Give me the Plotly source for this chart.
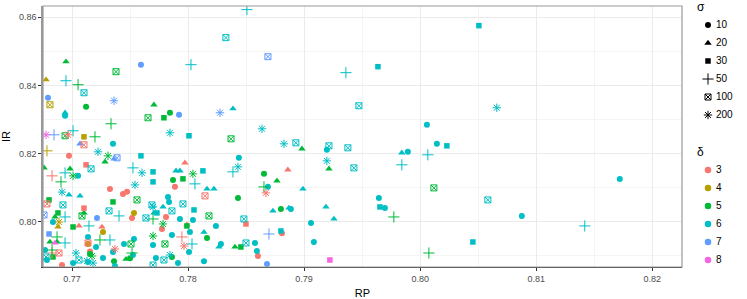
import plotly.graph_objects as go

# ---------------- data ----------------
SIGMAS = [10, 20, 30, 50, 100, 200]
DELTAS = [3, 4, 5, 6, 7, 8]
DELTA_COLORS = ["#F8766D", "#B79F00", "#00BA38", "#00BFC4", "#619CFF", "#F564E3"]

# sigma = 10 (circles)
RP_10 = [0.76974, 0.77327, 0.77439, 0.77474, 0.77517, 0.77887, 0.77810, 0.77775, 0.78809, 0.78602, 0.76914, 0.77155,
         0.77534, 0.77267, 0.77138,
         0.77121, 0.77844, 0.77870, 0.78430, 0.78654, 0.78800, 0.78163, 0.77362, 0.77155, 0.77861, 0.77500,
         0.76940, 0.77353, 0.77052, 0.78438, 0.77827, 0.77836, 0.77930, 0.78042, 0.78240, 0.77861, 0.78016, 0.78008,
         0.78137, 0.78283, 0.77913, 0.77723, 0.77698, 0.77448, 0.77534, 0.77525, 0.77207, 0.77138, 0.77138, 0.77370,
         0.77353, 0.77267, 0.77009, 0.76836, 0.76767, 0.76784, 0.78688, 0.78886, 0.78576, 0.78593, 0.79196, 0.79894,
         0.80058, 0.80144, 0.79644, 0.79696, 0.79059, 0.79084, 0.80876, 0.81720,
         0.77594, 0.76793, 0.77922, 0.77215, 0.78680]
IR_10 = [0.81932, 0.80962, 0.80815, 0.80874, 0.80109, 0.81021, 0.80138, 0.79785, 0.79662, 0.78991, 0.78724, 0.79126,
         0.80256, 0.79697, 0.79344,
         0.83374, 0.83197, 0.81226, 0.80697, 0.81403, 0.80373, 0.79521, 0.78838, 0.79050, 0.78962, 0.78926,
         0.83109, 0.82285, 0.81344, 0.81874, 0.80726, 0.80579, 0.80079, 0.80050, 0.79874, 0.79609, 0.79697, 0.79109,
         0.78838, 0.79344, 0.78785, 0.78932, 0.79315, 0.79344, 0.79491, 0.79020, 0.79256, 0.79550, 0.78815, 0.78697,
         0.79109, 0.78932, 0.78785, 0.79991, 0.79167, 0.78873, 0.81021, 0.80373, 0.79374, 0.79138, 0.82109, 0.82050,
         0.82844, 0.82285, 0.80697, 0.80403, 0.79962, 0.79403, 0.80168, 0.81250,
         0.84609, 0.83638, 0.83138, 0.80109, 0.78756]
DELTA_10 = [3] * 12 + [4] * 3 + [5] * 11 + [6] * 44 + [7] * 5

# sigma = 20 (triangles)
RP_20 = [0.77973, 0.78860, 0.77060, 0.77258, 0.77990,
         0.76776, 0.76879,
         0.76948, 0.77706, 0.77284, 0.76983, 0.76759, 0.78981, 0.78766, 0.79214, 0.77103, 0.76853, 0.76810, 0.76871,
         0.77465, 0.78404,
         0.76940, 0.78387, 0.77896, 0.77930, 0.76974, 0.77069, 0.77706, 0.77784, 0.78163, 0.78223, 0.78137, 0.78266,
         0.78731, 0.78869, 0.78990, 0.79188, 0.79257, 0.79842,
         0.77069, 0.77362,
         0.76853]
IR_20 = [0.81726, 0.81521, 0.79874, 0.79844, 0.79910,
         0.84168, 0.79844,
         0.84697, 0.83432, 0.81756, 0.81550, 0.81579, 0.82138, 0.81197, 0.81550, 0.80256, 0.80138, 0.79403, 0.79403,
         0.78897, 0.79256,
         0.83197, 0.83315, 0.81491, 0.81491, 0.80785, 0.80756, 0.80256, 0.80432, 0.80962, 0.80962, 0.79691, 0.79256,
         0.80315, 0.80403, 0.80962, 0.80432, 0.80079, 0.82021,
         0.82285, 0.81844,
         0.79374]
DELTA_20 = [3] * 5 + [4] * 2 + [5] * 14 + [6] * 18 + [7] * 2 + [8] * 1

# sigma = 30 (squares)
RP_30 = [0.77121, 0.77103, 0.78499,
         0.77103,
         0.77792, 0.77956, 0.77353, 0.77009, 0.76802, 0.76879, 0.76836, 0.77990, 0.78455,
         0.78008, 0.77594, 0.77698, 0.77698, 0.78128, 0.77732, 0.78051, 0.78800, 0.79653, 0.80230, 0.79636, 0.80506,
         0.80454,
         0.76802,
         0.79222]
IR_30 = [0.81668, 0.80397, 0.79932,
         0.82491,
         0.83050, 0.81256, 0.80579, 0.79844, 0.80638, 0.80256, 0.78962, 0.79874, 0.79256,
         0.82521, 0.81932, 0.81462, 0.81168, 0.81491, 0.80256, 0.80344, 0.79726, 0.80432, 0.82226, 0.84550, 0.85756,
         0.79403,
         0.79638,
         0.78874]
DELTA_30 = [3] * 3 + [4] * 1 + [5] * 9 + [6] * 13 + [7] * 1 + [8] * 1

# sigma = 50 (crosses)
RP_50 = [0.76828, 0.77947, 0.76828,
         0.76784,
         0.77052, 0.77336, 0.77198, 0.76905, 0.77698, 0.76871, 0.77241, 0.76828, 0.77517, 0.78654, 0.79773, 0.80075,
         0.78507, 0.76948, 0.78025, 0.77009, 0.77525, 0.76940, 0.78059, 0.78387, 0.76940, 0.77405, 0.77146, 0.77327,
         0.76940, 0.78034, 0.79360, 0.80066, 0.79842, 0.81418,
         0.76845, 0.78697]
IR_50 = [0.81344, 0.79550, 0.79079,
         0.82079,
         0.84021, 0.82874, 0.82491, 0.81168, 0.80079, 0.79550, 0.79462, 0.79167, 0.79079, 0.81021, 0.80138, 0.79079,
         0.86226, 0.84138, 0.84609, 0.82668, 0.81579, 0.81432, 0.81109, 0.81462, 0.80138, 0.80168, 0.79874, 0.79462,
         0.79374, 0.79344, 0.84374, 0.81962, 0.81668, 0.79874,
         0.82550, 0.79638]
DELTA_50 = [3] * 3 + [4] * 1 + [5] * 12 + [6] * 18 + [7] * 2

# sigma = 100 (boxed crosses)
RP_100 = [0.77103, 0.76784, 0.77138, 0.76888, 0.78146,
          0.76810,
          0.77379, 0.77655, 0.76940, 0.78370, 0.77560, 0.77086, 0.78180, 0.77508, 0.77801, 0.80118,
          0.78326, 0.77103, 0.77164, 0.78929, 0.79214, 0.79377, 0.79429, 0.79472, 0.76922, 0.77319, 0.77637, 0.77689,
          0.77861, 0.77956, 0.78481, 0.78499, 0.77792, 0.77060, 0.76776, 0.80583, 0.77698,
          0.78688, 0.77388, 0.76759]
IR_100 = [0.82256, 0.80521, 0.79374, 0.79079, 0.80756,
          0.83432,
          0.84403, 0.83050, 0.82521, 0.82432, 0.80638, 0.80168, 0.80168, 0.79344, 0.79344, 0.80991,
          0.85403, 0.83785, 0.81550, 0.82315, 0.82226, 0.82168, 0.81579, 0.83403, 0.80491, 0.80315, 0.80109, 0.80491,
          0.80315, 0.80521, 0.80079, 0.79374, 0.78874, 0.78874, 0.78962, 0.80638, 0.78727,
          0.84844, 0.81874, 0.80197]
DELTA_100 = [3] * 5 + [4] * 1 + [5] * 10 + [6] * 21 + [7] * 3

# sigma = 200 (asterisks)
RP_200 = [0.76966, 0.78671, 0.77965, 0.77370,
          0.76888,
          0.77310, 0.77009, 0.78042, 0.77784, 0.77698, 0.77172,
          0.77224, 0.77844, 0.78637, 0.78826, 0.78430, 0.77603, 0.77543, 0.76914, 0.77698, 0.79196, 0.80660, 0.77844,
          0.77034, 0.77129, 0.77181,
          0.77362, 0.78275,
          0.76776]
IR_200 = [0.82550, 0.80844, 0.79285, 0.79197,
          0.79991,
          0.81932, 0.81344, 0.81403, 0.79932, 0.79579, 0.78991,
          0.82050, 0.82609, 0.82726, 0.82285, 0.81609, 0.81432, 0.81079, 0.80868, 0.80432, 0.81785, 0.83344, 0.79020,
          0.79079, 0.78844, 0.78785,
          0.83550, 0.83197,
          0.82550]
DELTA_200 = [3] * 4 + [4] * 1 + [5] * 6 + [6] * 15 + [7] * 2 + [8] * 1

X_TICKS = [0.77, 0.78, 0.79, 0.80, 0.81, 0.82]
X_TICK_LABELS = ["0.77", "0.78", "0.79", "0.80", "0.81", "0.82"]
Y_TICKS = [0.80, 0.82, 0.84, 0.86]
Y_TICK_LABELS = ["0.80", "0.82", "0.84", "0.86"]

# ---------------- styling ----------------
SYMBOLS = {10: "circle", 20: "triangle-up", 30: "square", 50: "cross-thin-open",
           100: "square-x-open", 200: "asterisk-open"}
SIZES = {10: 6, 20: 6.5, 30: 5.5, 50: 8, 100: 6, 200: 7}
LINEW = {10: 0, 20: 0, 30: 0, 50: 1, 100: 1, 200: 1}
color_of = dict(zip(DELTAS, DELTA_COLORS))

series = {10: (RP_10, IR_10, DELTA_10), 20: (RP_20, IR_20, DELTA_20), 30: (RP_30, IR_30, DELTA_30),
          50: (RP_50, IR_50, DELTA_50), 100: (RP_100, IR_100, DELTA_100), 200: (RP_200, IR_200, DELTA_200)}

FONT = "Liberation Sans, Arial, sans-serif"
W, H = 747, 299
ML, MT, MB = 43, 6, 32
PLOT_RIGHT = 682                      # right edge of the panel in pixels
DOM = (PLOT_RIGHT - ML) / (W - ML)    # main x-domain share of the paper

fig = go.Figure()

for s in SIGMAS:
    rp, ir, de = series[s]
    cols = [color_of[d] for d in de]
    fig.add_trace(go.Scatter(
        x=rp, y=ir, mode="markers", showlegend=False, xaxis="x", yaxis="y",
        marker=dict(symbol=SYMBOLS[s], size=SIZES[s], color=cols,
                    line=dict(width=LINEW[s], color=cols)),
    ))

# ---------------- hand-laid legend (pixel-like helper axes) ----------------
LEG_MARK_X, LEG_TEXT_X, LEG_TITLE_X = 708, 716, 697
SIG_TITLE_Y, SIG_Y0 = 8, 25
DEL_TITLE_Y, DEL_Y0 = 153, 170
STEP = 18

sig_y = [SIG_Y0 + i * STEP for i in range(len(SIGMAS))]
del_y = [DEL_Y0 + i * STEP for i in range(len(DELTAS))]

for s, yy in zip(SIGMAS, sig_y):
    fig.add_trace(go.Scatter(
        x=[LEG_MARK_X], y=[yy], mode="markers", showlegend=False, xaxis="x2", yaxis="y2",
        cliponaxis=False, hoverinfo="skip",
        marker=dict(symbol=SYMBOLS[s], size=SIZES[s], color="black", line=dict(width=LINEW[s], color="black")),
    ))
fig.add_trace(go.Scatter(
    x=[LEG_MARK_X] * len(DELTAS), y=del_y, mode="markers", showlegend=False, xaxis="x2", yaxis="y2",
    cliponaxis=False, hoverinfo="skip", marker=dict(symbol="circle", size=6.5, color=DELTA_COLORS),
))
fig.add_trace(go.Scatter(
    x=[LEG_TEXT_X] * (len(SIGMAS) + len(DELTAS)), y=sig_y + del_y,
    text=[str(s) for s in SIGMAS] + [str(d) for d in DELTAS],
    mode="text", textposition="middle right", showlegend=False, xaxis="x2", yaxis="y2",
    cliponaxis=False, hoverinfo="skip", textfont=dict(size=10, color="black", family=FONT),
))
fig.add_trace(go.Scatter(
    x=[LEG_TITLE_X, LEG_TITLE_X], y=[SIG_TITLE_Y, DEL_TITLE_Y], text=["σ", "δ"],
    mode="text", textposition="middle right", showlegend=False, xaxis="x2", yaxis="y2",
    cliponaxis=False, hoverinfo="skip", textfont=dict(size=12, color="black", family=FONT),
))

axis_common = dict(
    showgrid=True, gridcolor="#EBEBEB", gridwidth=1,
    ticks="outside", ticklen=3, tickwidth=1, tickcolor="#333333",
    tickfont=dict(size=9, color="#4D4D4D", family=FONT),
    zeroline=False, showline=True, automargin=False,
)

fig.update_layout(
    width=W, height=H,
    margin=dict(l=ML, r=0, t=MT, b=MB, autoexpand=False),
    paper_bgcolor="white", plot_bgcolor="rgba(0,0,0,0)",
    font=dict(family=FONT, size=10, color="black"),
    showlegend=False,
    xaxis=dict(domain=[0, DOM], anchor="y", range=[0.7675, 0.82256], tickvals=X_TICKS, ticktext=X_TICK_LABELS,
               linecolor="#333333", linewidth=1,
               minor=dict(tickvals=[0.775, 0.785, 0.795, 0.805, 0.815], showgrid=True,
                          gridcolor="#F4F4F4", gridwidth=0.6, ticks=""),
               title=dict(text="RP", font=dict(size=11, color="black", family=FONT), standoff=6),
               **axis_common),
    yaxis=dict(domain=[0, 1], anchor="x", range=[0.78668, 0.86332], tickvals=Y_TICKS, ticktext=Y_TICK_LABELS,
               linecolor="#999999", linewidth=1.5,
               minor=dict(tickvals=[0.79, 0.81, 0.83, 0.85], showgrid=True,
                          gridcolor="#F4F4F4", gridwidth=0.6, ticks=""),
               title=dict(text="IR", font=dict(size=11, color="black", family=FONT), standoff=8),
               **axis_common),
    xaxis2=dict(domain=[DOM, 1], anchor="y2", range=[PLOT_RIGHT, W], visible=False, fixedrange=True),
    yaxis2=dict(domain=[0, 1], anchor="x2", range=[H - MB, MT], visible=False, fixedrange=True),
    shapes=[dict(type="rect", xref="x domain", yref="y domain", x0=0, y0=0, x1=1, y1=1,
                 line=dict(color="#999999", width=1.2), layer="above")],
)

fig.write_html("out.html", config={"displayModeBar": False},
               post_script="document.body.style.margin='0px';")
